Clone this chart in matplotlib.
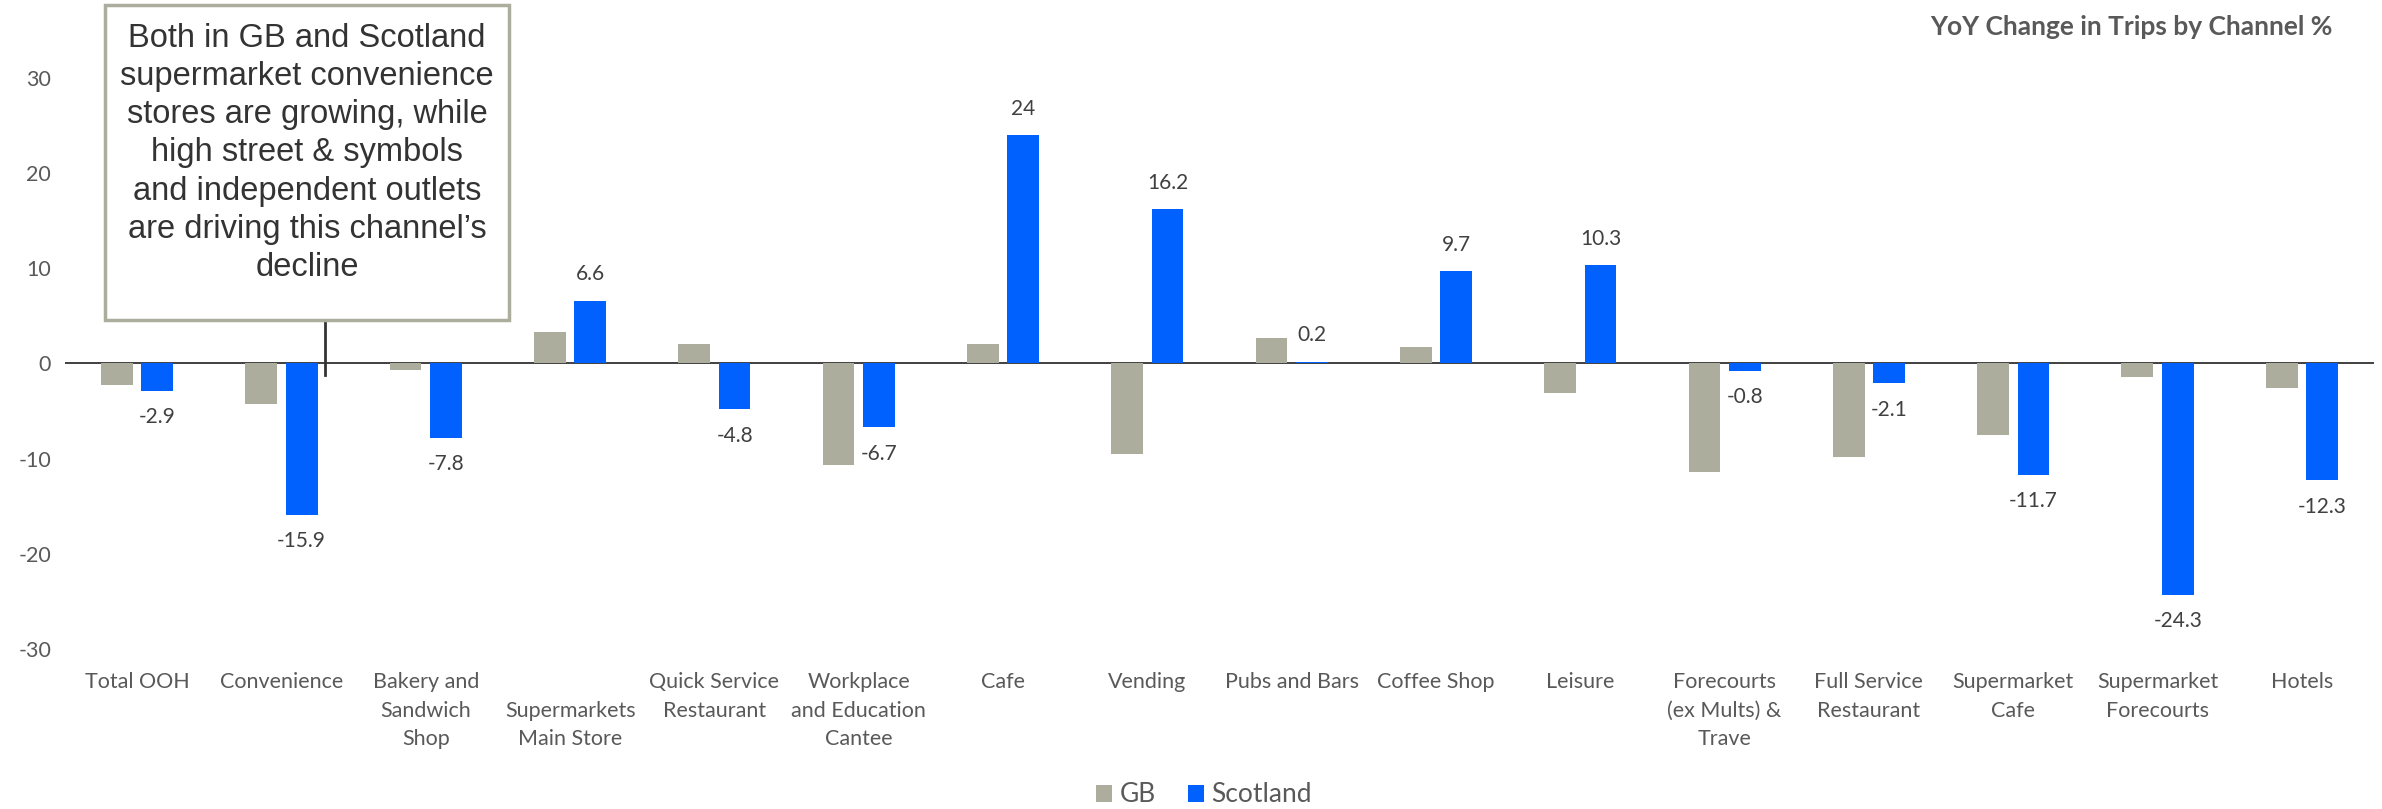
import matplotlib.pyplot as plt
from matplotlib.patches import Rectangle

channels = ["Total OOH", "Convenience", "Bakery and\nSandwich\nShop", "\nSupermarkets\nMain Store",
            "Quick Service\nRestaurant", "Workplace\nand Education\nCantee", "Cafe", "Vending",
            "Pubs and Bars", "Coffee Shop", "Leisure", "Forecourts\n(ex Mults) &\nTrave",
            "Full Service\nRestaurant", "Supermarket\nCafe", "Supermarket\nForecourts", "Hotels"]
gb = [-2.3, -4.3, -0.7, 3.3, 2.0, -10.7, 2.0, -9.5, 2.7, 1.7, -3.1, -11.4, -9.8, -7.5, -1.4, -2.6]
scotland = [-2.9, -15.9, -7.8, 6.6, -4.8, -6.7, 24, 16.2, 0.2, 9.7, 10.3, -0.8, -2.1, -11.7, -24.3, -12.3]

note = ("Both in GB and Scotland\nsupermarket convenience\nstores are growing, while\n"
        "high street & symbols\nand independent outlets\nare driving this channel\u2019s\ndecline")

gb_col = "#ADAD9E"
sc_col = "#0061FF"
grey = "#595959"

plt.rcParams['font.family'] = ['Lato', 'DejaVu Sans']
plt.rcParams['axes.unicode_minus'] = False

fig = plt.figure(figsize=(23.82, 8.09), dpi=100)
ax = fig.add_axes([65 / 2382, 0.198, (2374 - 65) / 2382, 0.776])

x = list(range(len(channels)))
w = 0.22
ax.bar([i - 0.14 for i in x], gb, w, color=gb_col, label="GB", zorder=2)
bars = ax.bar([i + 0.14 for i in x], scotland, w, color=sc_col, label="Scotland", zorder=2)

for b, v in zip(bars, scotland):
    off = 19 if v >= 0 else -19
    ax.annotate(f"{v:g}", (b.get_x() + b.get_width() / 2, v), xytext=(0, off),
                textcoords="offset points", ha="center", va="center",
                fontsize=15, color="#404040")

ax.axhline(0, color="#404040", lw=1.4, zorder=1)
ax.set_xlim(-0.5, len(channels) - 0.5)
ax.set_ylim(-30, 36)
ax.set_yticks([-30, -20, -10, 0, 10, 20, 30])
ax.set_xticks(x)
ax.set_xticklabels(channels, linespacing=1.52)
ax.tick_params(length=0, labelsize=15.5, colors=grey)
ax.tick_params(axis="x", pad=17)
ax.tick_params(axis="y", pad=10)
for s in ax.spines.values():
    s.set_visible(False)

ax.legend(loc="center", bbox_to_anchor=(1204 / 2382, 1 - 795 / 809), bbox_transform=fig.transFigure,
          ncol=2, frameon=False, fontsize=19, handlelength=0.6, handleheight=0.6,
          handletextpad=0.3, columnspacing=1.2, labelcolor=grey)

fig.text(2333 / 2382, 1 - 27 / 809, "YoY Change in Trips by Channel %", ha="right", va="center",
         fontsize=19, fontweight="bold", color=grey)

# callout box with pointer to the convenience bars
fig.patches.append(Rectangle((105 / 2382, 1 - 320 / 809), 404 / 2382, 315 / 809,
                             transform=fig.transFigure, facecolor="white",
                             edgecolor="#ADAD9E", lw=2.5, zorder=5))
fig.text(307 / 2382, 1 - 153 / 809, note, ha="center", va="center", fontsize=23.5,
         family="Liberation Sans", color="#333333", linespacing=1.3, zorder=6)
ax.plot([1.30, 1.30], [4.5, -1.2], color="#333333", lw=2, zorder=4, clip_on=False)

fig.savefig("out.png", dpi=100)
